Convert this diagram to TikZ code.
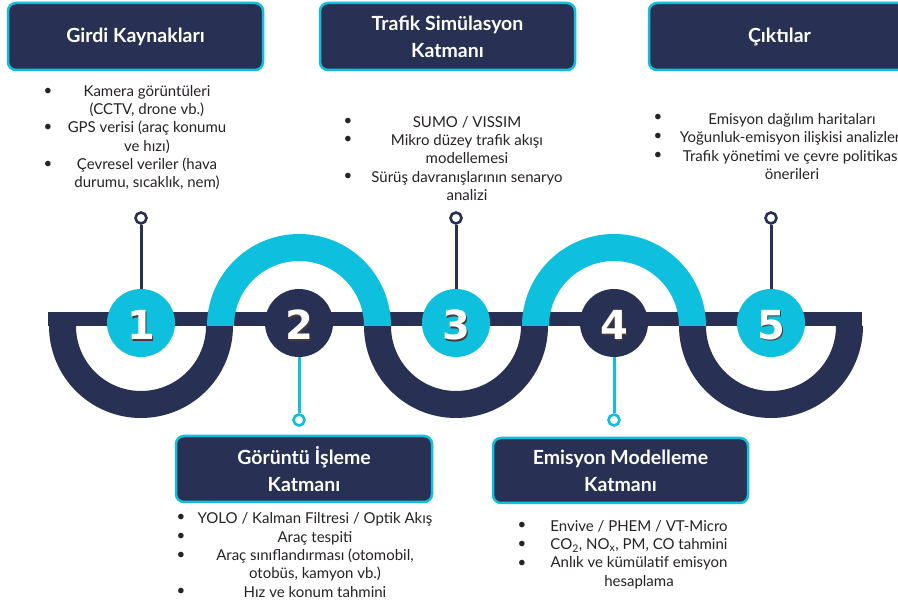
\documentclass[tikz,border=0pt]{standalone}
\usepackage{fontspec}
\setmainfont{Lato}
\newfontfamily\titlefont{Lato}
\newfontfamily\numfont{DejaVu Sans}
\definecolor{navy}{HTML}{283154}
\definecolor{cyanx}{HTML}{0EC0DE}
\definecolor{shadowc}{HTML}{4A3A36}
\definecolor{bodytext}{HTML}{262226}
\tikzset{
  titlebox/.style={draw=cyanx, line width=2.5pt, fill=navy, rounded corners=8pt,
    text=white, font=\titlefont\bfseries\fontsize{19.5}{27}\selectfont, align=center, inner sep=0pt},
  listtext/.style={font=\fontsize{15}{18.3}\selectfont, align=center, text=bodytext, inner sep=0pt},
  bul/.style={font=\fontsize{15}{18.3}\selectfont, text=bodytext, inner sep=0pt},
  numcirc/.style={circle, minimum size=68pt, inner sep=0pt},
  numtext/.style={font=\numfont\bfseries\fontsize{40}{40}\selectfont, text=white, inner sep=0pt},
  numshadow/.style={numtext, text=shadowc},
  darkstem/.style={line width=3pt, draw=navy},
  cyanstem/.style={line width=3pt, draw=cyanx},
  darkring/.style={circle, draw=navy, line width=2.6pt, fill=white, minimum size=11pt, inner sep=0pt},
  cyanring/.style={circle, draw=cyanx, line width=2.6pt, fill=white, minimum size=11pt, inner sep=0pt},
  darkband/.style={fill=navy},
  cyanband/.style={fill=cyanx}
}
\begin{document}
\begin{tikzpicture}[x=1pt,y=1pt]
\useasboundingbox (0,0) rectangle (898,606);
\clip (0,0) rectangle (898,606);
\fill[white] (0,0) rectangle (898,606);

% main band
\fill[darkband] (48,280) rectangle (862,294);
% lower dark half rings
\foreach \cx in {141,456,771}{
  \fill[darkband] (\cx-92,280) arc (180:360:92) -- (\cx+65,280) arc (0:-180:65) -- cycle;
}
% upper cyan half rings
\foreach \cx in {299,614}{
  \fill[cyanband] (\cx-92,280) arc (180:0:92) -- (\cx+65,280) arc (0:180:65) -- cycle;
}

% circles
\node[numcirc, fill=cyanx] (c1) at (141,283) {};
\node[numcirc, fill=navy]  (c2) at (299,283) {};
\node[numcirc, fill=cyanx] (c3) at (456,283) {};
\node[numcirc, fill=navy]  (c4) at (614,283) {};
\node[numcirc, fill=cyanx] (c5) at (771,283) {};

% stems and end rings
\node[darkring] (r1) at (141,388) {};
\node[cyanring] (r2) at (299,186) {};
\node[darkring] (r3) at (456,388) {};
\node[cyanring] (r4) at (614,186) {};
\node[darkring] (r5) at (771,388) {};
\draw[darkstem] (c1.north) -- (r1.south);
\draw[cyanstem] (c2.south) -- (r2.north);
\draw[darkstem] (c3.north) -- (r3.south);
\draw[cyanstem] (c4.south) -- (r4.north);
\draw[darkstem] (c5.north) -- (r5.south);

% numbers
\foreach \i in {1,...,5}{
  \node[numshadow] (s\i) at ([shift={(1.6,-3.6)}]c\i.center) {\i};
  \node[numtext] (n\i) at ([shift={(0,-2)}]c\i.center) {\i};
}

% title boxes
\node[titlebox, minimum width=255pt, minimum height=67pt] (t1) at (135.5,569.5) {Girdi Kaynakları};
\node[titlebox, minimum width=255pt, minimum height=67pt] (t3) at (447.5,569.5) {Trafik Simülasyon\\Katmanı};
\node[titlebox, minimum width=261pt, minimum height=67pt, text width=255pt] (t5) at (779.5,569.5) {Çıktılar};
\node[titlebox, minimum width=256pt, minimum height=66pt] (t2) at (304,137) {Görüntü İşleme\\Katmanı};
\node[titlebox, minimum width=255pt, minimum height=65pt] (t4) at (620.5,135.5) {Emisyon Modelleme\\Katmanı};

% list 1
\node[listtext] (l1) at (147,468.5) {Kamera görüntüleri\\(CCTV, drone vb.)\\GPS verisi (araç konumu\\ve hızı)\\Çevresel veriler (hava\\durumu, sıcaklık, nem)};
\node[bul] (b11) at (48,514) {•};
\node[bul] (b12) at (48,478) {•};
\node[bul] (b13) at (48,441) {•};

% list 3
\node[listtext] (l3) at (467,447.5) {SUMO / VISSIM\\Mikro düzey trafik akışı\\modellemesi\\Sürüş davranışlarının senaryo\\analizi};
\node[bul] (b31) at (348,484) {•};
\node[bul] (b32) at (348,466) {•};
\node[bul] (b33) at (348,429) {•};

% list 5
\node[listtext] (l5) at (792,459.5) {Emisyon dağılım haritaları\\Yoğunluk-emisyon ilişkisi analizleri\\Trafik yönetimi ve çevre politikası\\önerileri};
\node[bul] (b51) at (658,488) {•};
\node[bul] (b52) at (658,469) {•};
\node[bul] (b53) at (658,450) {•};

% list 2
\node[listtext] (l2) at (315,51) {YOLO / Kalman Filtresi / Optik Akış\\Araç tespiti\\Araç sınıflandırması (otomobil,\\otobüs, kamyon vb.)\\Hız ve konum tahmini};
\node[bul] (b21) at (181,88) {•};
\node[bul] (b22) at (181,69) {•};
\node[bul] (b23) at (181,50) {•};
\node[bul] (b24) at (181,14) {•};

% list 4
\node[listtext] (l4) at (639,51.5) {Envive / PHEM / VT-Micro\\CO\textsubscript{2}, NO\textsubscript{x}, PM, CO tahmini\\Anlık ve kümülatif emisyon\\hesaplama};
\node[bul] (b41) at (522,80) {•};
\node[bul] (b42) at (522,61) {•};
\node[bul] (b43) at (522,42) {•};
\end{tikzpicture}
\end{document}
